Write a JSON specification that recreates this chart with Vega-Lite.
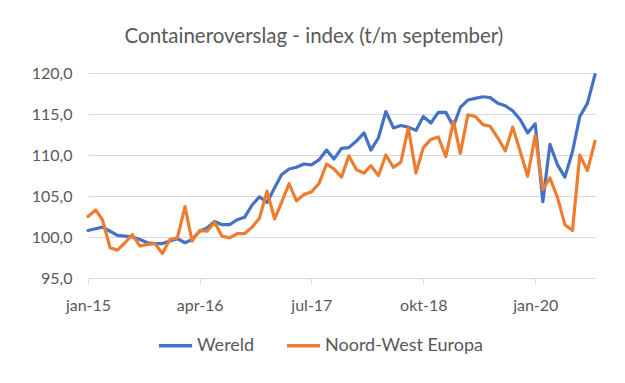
{
  "$schema": "https://vega.github.io/schema/vega-lite/v6.json",
  "width": 507,
  "height": 205,
  "autosize": {"type": "none"},
  "padding": {"left": 88, "top": 73, "right": 30, "bottom": 105},
  "background": "white",
  "title": {
    "text": "Containeroverslag - index (t/m september)",
    "font": "Lato",
    "fontSize": 20.5,
    "fontWeight": "normal",
    "color": "#595959",
    "anchor": "middle",
    "frame": "bounds",
    "offset": 18
  },
  "data": {
    "values": [
      {"maand": "2015-01-01", "Wereld": 100.8, "Noord-West Europa": 102.5},
      {"maand": "2015-02-01", "Wereld": 101.0, "Noord-West Europa": 103.3},
      {"maand": "2015-03-01", "Wereld": 101.2, "Noord-West Europa": 102.1},
      {"maand": "2015-04-01", "Wereld": 100.7, "Noord-West Europa": 98.7},
      {"maand": "2015-05-01", "Wereld": 100.2, "Noord-West Europa": 98.4},
      {"maand": "2015-06-01", "Wereld": 100.1, "Noord-West Europa": 99.3},
      {"maand": "2015-07-01", "Wereld": 100.0, "Noord-West Europa": 100.3},
      {"maand": "2015-08-01", "Wereld": 99.7, "Noord-West Europa": 98.9},
      {"maand": "2015-09-01", "Wereld": 99.3, "Noord-West Europa": 99.1},
      {"maand": "2015-10-01", "Wereld": 99.2, "Noord-West Europa": 99.2},
      {"maand": "2015-11-01", "Wereld": 99.2, "Noord-West Europa": 98.0},
      {"maand": "2015-12-01", "Wereld": 99.5, "Noord-West Europa": 99.7},
      {"maand": "2016-01-01", "Wereld": 99.8, "Noord-West Europa": 99.9},
      {"maand": "2016-02-01", "Wereld": 99.3, "Noord-West Europa": 103.7},
      {"maand": "2016-03-01", "Wereld": 99.7, "Noord-West Europa": 99.5},
      {"maand": "2016-04-01", "Wereld": 100.7, "Noord-West Europa": 100.8},
      {"maand": "2016-05-01", "Wereld": 101.1, "Noord-West Europa": 100.7},
      {"maand": "2016-06-01", "Wereld": 101.9, "Noord-West Europa": 101.8},
      {"maand": "2016-07-01", "Wereld": 101.5, "Noord-West Europa": 100.1},
      {"maand": "2016-08-01", "Wereld": 101.5, "Noord-West Europa": 99.9},
      {"maand": "2016-09-01", "Wereld": 102.1, "Noord-West Europa": 100.4},
      {"maand": "2016-10-01", "Wereld": 102.4, "Noord-West Europa": 100.4},
      {"maand": "2016-11-01", "Wereld": 103.9, "Noord-West Europa": 101.2},
      {"maand": "2016-12-01", "Wereld": 104.9, "Noord-West Europa": 102.3},
      {"maand": "2017-01-01", "Wereld": 104.2, "Noord-West Europa": 105.6},
      {"maand": "2017-02-01", "Wereld": 106.0, "Noord-West Europa": 102.2},
      {"maand": "2017-03-01", "Wereld": 107.6, "Noord-West Europa": 104.2},
      {"maand": "2017-04-01", "Wereld": 108.3, "Noord-West Europa": 106.5},
      {"maand": "2017-05-01", "Wereld": 108.5, "Noord-West Europa": 104.4},
      {"maand": "2017-06-01", "Wereld": 108.9, "Noord-West Europa": 105.2},
      {"maand": "2017-07-01", "Wereld": 108.8, "Noord-West Europa": 105.5},
      {"maand": "2017-08-01", "Wereld": 109.4, "Noord-West Europa": 106.5},
      {"maand": "2017-09-01", "Wereld": 110.6, "Noord-West Europa": 108.9},
      {"maand": "2017-10-01", "Wereld": 109.5, "Noord-West Europa": 108.3},
      {"maand": "2017-11-01", "Wereld": 110.8, "Noord-West Europa": 107.3},
      {"maand": "2017-12-01", "Wereld": 110.9, "Noord-West Europa": 109.9},
      {"maand": "2018-01-01", "Wereld": 111.7, "Noord-West Europa": 108.2},
      {"maand": "2018-02-01", "Wereld": 112.7, "Noord-West Europa": 107.8},
      {"maand": "2018-03-01", "Wereld": 110.6, "Noord-West Europa": 108.7},
      {"maand": "2018-04-01", "Wereld": 112.1, "Noord-West Europa": 107.5},
      {"maand": "2018-05-01", "Wereld": 115.3, "Noord-West Europa": 110.0},
      {"maand": "2018-06-01", "Wereld": 113.3, "Noord-West Europa": 108.5},
      {"maand": "2018-07-01", "Wereld": 113.6, "Noord-West Europa": 109.1},
      {"maand": "2018-08-01", "Wereld": 113.4, "Noord-West Europa": 113.3},
      {"maand": "2018-09-01", "Wereld": 113.0, "Noord-West Europa": 107.8},
      {"maand": "2018-10-01", "Wereld": 114.7, "Noord-West Europa": 110.9},
      {"maand": "2018-11-01", "Wereld": 113.9, "Noord-West Europa": 111.9},
      {"maand": "2018-12-01", "Wereld": 115.2, "Noord-West Europa": 112.2},
      {"maand": "2019-01-01", "Wereld": 115.2, "Noord-West Europa": 109.8},
      {"maand": "2019-02-01", "Wereld": 113.5, "Noord-West Europa": 114.1},
      {"maand": "2019-03-01", "Wereld": 115.8, "Noord-West Europa": 110.2},
      {"maand": "2019-04-01", "Wereld": 116.7, "Noord-West Europa": 114.9},
      {"maand": "2019-05-01", "Wereld": 116.9, "Noord-West Europa": 114.7},
      {"maand": "2019-06-01", "Wereld": 117.1, "Noord-West Europa": 113.7},
      {"maand": "2019-07-01", "Wereld": 117.0, "Noord-West Europa": 113.5},
      {"maand": "2019-08-01", "Wereld": 116.3, "Noord-West Europa": 112.1},
      {"maand": "2019-09-01", "Wereld": 116.0, "Noord-West Europa": 110.5},
      {"maand": "2019-10-01", "Wereld": 115.4, "Noord-West Europa": 113.4},
      {"maand": "2019-11-01", "Wereld": 114.3, "Noord-West Europa": 110.4},
      {"maand": "2019-12-01", "Wereld": 112.7, "Noord-West Europa": 107.4},
      {"maand": "2020-01-01", "Wereld": 113.8, "Noord-West Europa": 112.4},
      {"maand": "2020-02-01", "Wereld": 104.3, "Noord-West Europa": 105.8},
      {"maand": "2020-03-01", "Wereld": 111.3, "Noord-West Europa": 107.2},
      {"maand": "2020-04-01", "Wereld": 108.8, "Noord-West Europa": 104.8},
      {"maand": "2020-05-01", "Wereld": 107.3, "Noord-West Europa": 101.5},
      {"maand": "2020-06-01", "Wereld": 110.4, "Noord-West Europa": 100.8},
      {"maand": "2020-07-01", "Wereld": 114.7, "Noord-West Europa": 110.0},
      {"maand": "2020-08-01", "Wereld": 116.3, "Noord-West Europa": 108.1},
      {"maand": "2020-09-01", "Wereld": 119.8, "Noord-West Europa": 111.7}
    ]
  },
  "transform": [{"fold": ["Wereld", "Noord-West Europa"], "as": ["regio", "index"]}],
  "mark": {"type": "line", "strokeWidth": 3.2, "strokeJoin": "round", "strokeCap": "round"},
  "encoding": {
    "x": {
      "field": "maand",
      "type": "temporal",
      "scale": {
        "type": "utc",
        "domain": [
          {"year": 2015, "month": 1, "date": 1, "utc": true},
          {"year": 2020, "month": 9, "date": 1, "utc": true}
        ]
      },
      "axis": {
        "title": null,
        "values": [
          {"year": 2015, "month": 1, "date": 1, "utc": true},
          {"year": 2016, "month": 4, "date": 1, "utc": true},
          {"year": 2017, "month": 7, "date": 1, "utc": true},
          {"year": 2018, "month": 10, "date": 1, "utc": true},
          {"year": 2020, "month": 1, "date": 1, "utc": true}
        ],
        "labelExpr": "['jan','feb','mrt','apr','mei','jun','jul','aug','sep','okt','nov','dec'][utcmonth(datum.value)] + '-' + utcFormat(datum.value, '%y')",
        "grid": false,
        "domainColor": "#D9D9D9",
        "tickColor": "#D9D9D9",
        "tickSize": 6,
        "labelFont": "Lato",
        "labelFontSize": 16,
        "labelColor": "#595959",
        "labelPadding": 13,
        "labelFlush": false
      }
    },
    "y": {
      "field": "index",
      "type": "quantitative",
      "scale": {"domain": [95, 120], "nice": false, "zero": false},
      "axis": {
        "title": null,
        "values": [95, 100, 105, 110, 115, 120],
        "labelExpr": "replace(format(datum.value, '.1f'), '.', ',')",
        "domain": false,
        "ticks": false,
        "gridColor": "#D9D9D9",
        "labelFont": "Lato",
        "labelFontSize": 16,
        "labelColor": "#595959",
        "labelPadding": 16
      }
    },
    "color": {
      "field": "regio",
      "type": "nominal",
      "scale": {"domain": ["Wereld", "Noord-West Europa"], "range": ["#4472C4", "#ED7D31"]},
      "legend": {
        "title": null,
        "orient": "none",
        "legendX": 69,
        "legendY": 254,
        "direction": "horizontal",
        "symbolType": "stroke",
        "symbolStrokeWidth": 3.5,
        "symbolSize": 1100,
        "labelFont": "Lato",
        "labelFontSize": 18,
        "labelColor": "#595959",
        "labelOffset": 3,
        "columnPadding": 24
      }
    }
  },
  "config": {"view": {"stroke": null}}
}
